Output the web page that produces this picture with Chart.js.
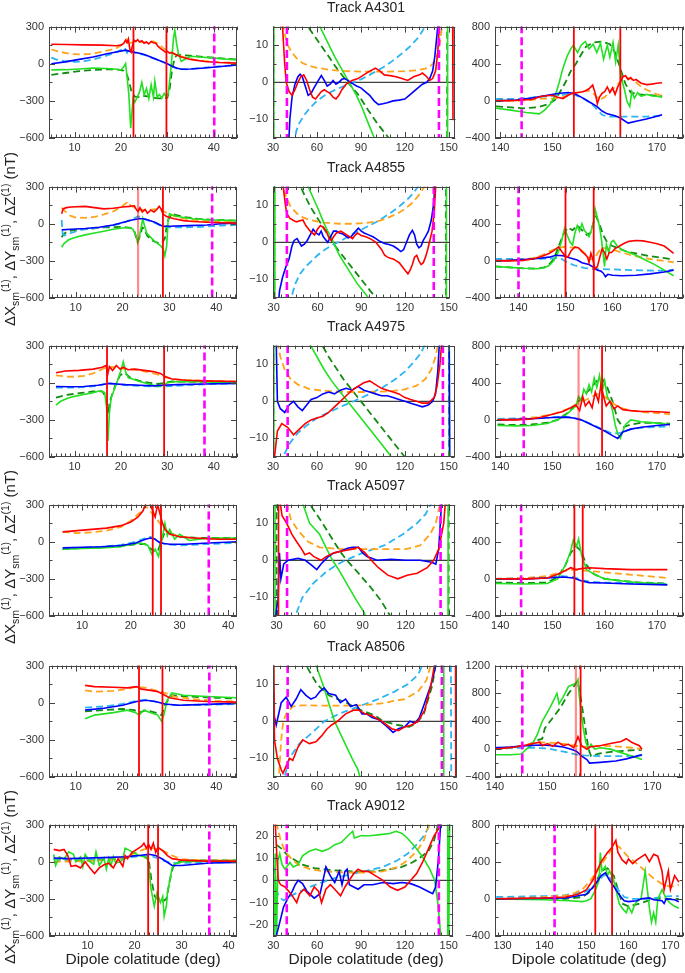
<!DOCTYPE html>
<html>
<head>
<meta charset="utf-8">
<script src="https://cdn.jsdelivr.net/npm/chart.js@4.4.1/dist/chart.umd.min.js"></script>
<style>
  body { margin: 0; background: #fff; width: 685px; height: 973px; position: relative; overflow: hidden;
         font-family: "Liberation Sans", Arial, sans-serif; color: #222; }
  canvas { position: absolute; }
  .title { position: absolute; width: 220px; text-align: center; font-size: 14px; line-height: 16px; }
  .xlab { position: absolute; width: 230px; text-align: center; font-size: 15.5px; line-height: 18px; }
  .ylab { position: absolute; width: 300px; height: 18px; line-height: 18px; text-align: center; font-size: 15px;
          white-space: nowrap; transform: rotate(-90deg); }
  .ylab .sb { font-size: 10.5px; position: relative; top: 4px; line-height: 0; }
  .ylab .sp { font-size: 10.5px; position: relative; top: -6px; line-height: 0; }
</style>
</head>
<body>
<script>
// ---------- tracks & axis ranges ----------
const tracks = ['A4301', 'A4855', 'A4975', 'A5097', 'A8506', 'A9012'];

const xRangeN = [[4.5, 45], [4.3, 44.4], [4.5, 45], [3.2, 41.8], [4.3, 44.4], [1.8, 41.8]];
const xRangeM = [[30, 154.5], [29.5, 150.5], [30, 154], [27.5, 154.5], [30, 155.5], [29.8, 153]];
const xRangeS = [[139, 175], [135, 175], [139, 175], [139, 175], [140, 175.8], [128.2, 173]];

const yRangeN = [-600, 300];
const yRangeM = [-15, 15];
const yRangeM_A9012 = [-25, 25];
const yRangeS = [-400, 800];
const yRangeS_A8506 = [-400, 1200];

// ---------- A4301 ----------
const A4301n_red = [5,157, 8,155, 12,152, 16,150, 19,145, 20,150, 20.6,165, 21,190, 21.3,170, 21.6,200, 21.9,120, 22.2,95, 22.5,150, 22.8,190, 23.2,180, 23.6,195, 24,175, 24.5,185, 25,165, 25.5,175, 26,160, 26.5,180, 27,170, 27.5,165, 28,140, 28.5,125, 29,110, 29.5,95, 30,100, 30.5,85, 31,90, 32,70, 33,55, 35,35, 38,18, 41,10, 45,5];
const A4301n_orange = [5,115, 7,95, 9,80, 11,75, 13,78, 15,90, 17,105, 19,125, 20.5,160, 21.2,195, 21.6,150, 22.2,170, 23,185, 24,175, 25,172, 26,175, 27,180, 28,160, 29,130, 30,105, 31,85, 32,70, 34,50, 36,30, 40,15, 45,5];
const A4301n_blue = [5,0, 8,15, 11,35, 14,55, 17,80, 19,95, 21,110, 22,100, 23,92, 24,85, 25,75, 26,60, 27,45, 28,30, 29,15, 30,0, 31,-20, 32,-35, 33,-45, 35,-42, 38,-35, 41,-25, 45,-10];
const A4301n_lblue = [5,50, 6,35, 8,20, 10,15, 12,20, 14,35, 16,55, 18,80, 20,110, 20.8,130, 21.3,90, 21.6,120, 22,100, 23,90, 25,72, 27,45, 29,15, 31,-20, 32,-40, 34,-45, 38,-32, 42,-18, 45,-10];
const A4301n_green = [5,-50, 8,-48, 11,-42, 14,-35, 17,-38, 19,-45, 20,-50, 20.5,-30, 21,0, 21.3,-100, 21.7,-250, 22.1,-520, 22.4,-380, 22.6,-280, 23,-310, 23.5,-270, 24,-230, 24.5,-150, 25,-250, 25.5,-200, 26,-280, 26.5,-170, 27,-270, 27.3,-140, 27.8,-270, 28.3,-250, 28.8,-280, 29.3,-240, 29.8,-270, 30.2,-240, 30.6,-100, 31,60, 31.3,200, 31.6,270, 32,160, 32.4,80, 33,20, 34,40, 35,60, 37,55, 40,45, 45,30];
const A4301n_dgreen = [5,-90, 8,-75, 11,-60, 14,-50, 17,-45, 19,-45, 20.5,-55, 21.3,-90, 21.8,-150, 22.3,-230, 23,-265, 24,-270, 25,-260, 26,-265, 27,-275, 28,-280, 29,-280, 30,-275, 30.5,-200, 31,-50, 31.6,50, 32.2,75, 33,70, 35,65, 38,55, 41,45, 45,35];
const A4301n_vred = [22.7, 29.8];
const A4301n_vpale = [];
const A4301n_vmag = [40.1];

const A4301m_red = [35.5,40, 36.5,15, 38,5, 39,0, 41,-2.5, 43,-3.5, 45,-2, 47,0, 49,1.5, 51,2, 53,0.5, 55,-2, 57,-4, 59,-4.5, 61,-3.5, 63,-2.5, 65,-2, 67,-2.5, 69,-3, 71,-4, 73,-4.5, 75,-3.5, 77,-2, 80,-0.5, 84,0.5, 88,1, 92,2, 96,3, 100,3.8, 103,3, 106,2, 110,1.8, 114,1.5, 118,1, 122,0.5, 126,1.5, 130,2, 132,2.5, 135,1.5, 137,0.5, 139,1, 141,3, 142.5,8, 143.5,15, 145,40, 152.5,40, 152.9,-10, 153.2,-10];
const A4301m_orange = [36.5,16, 38,13, 40,10, 43,8, 46,6.5, 50,5.2, 55,4.4, 60,3.9, 70,3.3, 80,3, 90,2.9, 100,2.9, 110,2.9, 120,3, 128,3.2, 134,3.7, 138,4.5, 141,6, 143,8.5, 144.5,12, 145.5,16];
const A4301m_blue = [40.3,-20, 41.5,-10, 43,-4, 45,-0.5, 47,1.5, 48.5,2.2, 50,1.5, 52,-1, 54,-3.5, 56,-3, 58,-1.5, 61,0.5, 63,1.8, 65,0.5, 67,-1, 69,-0.5, 71,0.5, 73,-0.5, 75,0, 77,0.8, 79,1, 81,0.5, 83,0, 85,-0.5, 87,-1, 90,-1.5, 93,-2.5, 96,-3.5, 99,-5, 102,-6, 105,-5.8, 108,-5.5, 112,-5, 116,-4.8, 120,-4.5, 123,-3.5, 126,-2.5, 129,-1.5, 132,-0.5, 135,0, 137,1, 139,3, 140.5,7, 141.5,11, 142.5,15, 143.5,30];
const A4301m_lblue = [44,-17, 46,-13, 48,-11, 51,-9, 55,-7, 60,-5, 65,-3.6, 70,-2.5, 75,-1.6, 80,-0.8, 85,0, 90,0.8, 95,1.8, 100,2.9, 105,4, 110,5.3, 115,6.8, 120,8.4, 125,10.2, 129,12, 132,13.8, 134.5,15.5];
const A4301m_green = [30.3,-300, 30.8,300, 60,20, 62,15, 67,11, 72,7, 77,3.5, 82,0, 87,-3.5, 91,-7, 95,-11, 99.7,-15.5, 148.8,-300, 149.6,300];
const A4301m_dgreen = [30.1,-300, 30.5,300, 51,20, 53,15.5, 60,11.5, 67,7.5, 74,3.5, 81,0, 88,-3.2, 95,-7.5, 102,-11.5, 110,-15.5, 148.6,-300, 149.3,300];
const A4301m_vmag = [39.5, 143.3];

const A4301s_red = [139.2,0, 143,5, 146,15, 148,50, 150,60, 151,40, 152,25, 153,60, 154,85, 155,90, 156,100, 157,130, 157.7,170, 158.2,80, 158.6,-30, 159,40, 159.5,80, 160,100, 160.5,150, 161,90, 161.5,140, 162,70, 162.5,150, 163,200, 163.5,260, 164,270, 164.5,230, 165,250, 165.5,220, 166,230, 167,190, 168,175, 169,180, 170,190, 171,195];
const A4301s_orange = [139.2,0, 143,0, 146,10, 148,25, 150,25, 152,40, 154,80, 155.5,100, 157,110, 158,70, 159,10, 160,40, 161,100, 162,150, 163,210, 164,250, 165,240, 166,200, 167,150, 168,120, 169,95, 170,70, 171,55];
const A4301s_green = [139.2,-80, 142,-100, 145,-125, 147.5,-140, 148.5,-100, 149.5,-40, 150.5,50, 151.3,200, 152,350, 152.8,480, 153.5,560, 154,600, 154.8,520, 155.5,600, 156.3,640, 157,560, 157.8,610, 158.5,520, 159.2,620, 159.8,450, 160.5,600, 161,470, 161.6,630, 162.1,420, 162.6,600, 163,320, 163.4,200, 163.8,120, 164.3,-10, 164.8,-60, 165.2,100, 165.7,30, 166.3,90, 167,50, 168,70, 169,55, 170,50, 171,40];
const A4301s_dgreen = [139.2,-60, 142,-70, 144.5,-80, 147,-70, 149,-40, 150.5,10, 151.5,100, 152.5,200, 153.5,320, 154.5,400, 155.5,500, 156.5,590, 158,630, 159.5,640, 161,610, 162,520, 163,350, 164,180, 165,90, 166.5,70, 168,65, 170,55, 171,50];
const A4301s_blue = [139.2,0, 143,10, 146,30, 148.5,55, 151,80, 153,90, 154.2,80, 155.5,40, 157,-10, 158.5,-60, 159.5,-110, 160.5,-140, 162,-160, 163,-185, 164.5,-240, 166,-220, 168,-195, 170,-165, 171,-150];
const A4301s_lblue = [139.2,20, 143,20, 146,35, 149,50, 151.5,60, 153,75, 154.5,60, 156,25, 157.5,-30, 158.5,-90, 159.5,-150, 160.5,-170, 163,-170, 166,-170, 168,-170, 171,-160];
const A4301s_vred = [154.1, 163.0];
const A4301s_vpale = [];
const A4301s_vmag = [144.1];

// ---------- A4855 ----------
const A4855n_red = [7,80, 7.3,120, 8,130, 9,135, 12,140, 14,130, 16,120, 18,125, 20,135, 21.5,140, 22.5,145, 23,110, 23.3,100, 23.7,130, 24.2,95, 24.8,115, 25.3,85, 26,110, 26.7,95, 27.3,115, 27.8,140, 28.2,120, 28.6,80, 29.3,60, 30,50, 31,40, 33,25, 35,18, 38,12, 41,8, 44.4,5];
const A4855n_orange = [7,130, 7.5,110, 8.5,70, 10,50, 12,48, 14,55, 16,75, 18,100, 19.5,130, 20.5,160, 21.2,180, 21.6,150, 22.5,130, 23.5,115, 25,110, 26.5,115, 28,120, 29,95, 30,75, 32,50, 35,30, 38,20, 44.4,15];
const A4855n_green = [7,-190, 7.5,-160, 8.5,-130, 10,-110, 12,-90, 14,-75, 16,-60, 18,-45, 20,-35, 21.5,-30, 22.2,-45, 22.8,-90, 23.2,-150, 23.6,-100, 24,-20, 24.3,40, 24.7,-20, 25.2,-80, 26,-110, 26.8,-140, 27.5,-160, 28.2,-180, 28.7,-210, 29,-260, 29.4,-180, 29.7,20, 30,80, 30.5,70, 31.5,60, 33,50, 35,40, 38,32, 44.4,25];
const A4855n_dgreen = [7,-110, 7.5,-80, 8.5,-60, 10,-50, 13,-40, 16,-30, 20,-25, 21.8,-35, 22.5,-60, 23.2,-150, 23.7,-100, 24.2,-30, 24.6,-40, 25.3,-100, 26.5,-140, 27.5,-155, 28.3,-160, 29,-120, 29.4,-20, 29.8,40, 30.5,80, 31.5,70, 33,55, 36,40, 40,30, 44.4,25];
const A4855n_blue = [7,-50, 9,-45, 12,-38, 15,-28, 18,-10, 20,10, 22,30, 23.5,40, 24.5,40, 25.5,30, 27,10, 28,-10, 28.6,-20, 30,-20, 34,-15, 38,-10, 41,0, 44.4,5];
const A4855n_lblue = [7,30, 7.2,-80, 7.6,-95, 9,-75, 11,-50, 14,-35, 17,-20, 20,5, 22,35, 23.3,60, 24,45, 25.5,25, 27,5, 28.5,-20, 30,-30, 33,-30, 37,-25, 41,-15, 44.4,-10];
const A4855n_vred = [28.6];
const A4855n_vpale = [23.3];
const A4855n_vmag = [39.1];

const A4855m_red = [35,40, 36.5,15, 38,10, 39,7.7, 41,6.5, 43,6, 45.5,5.5, 48,5.8, 50,6, 52,4.5, 55,3, 58,2, 60,3.5, 62,4.5, 64,4, 66,3, 68,1, 69.5,0.5, 71,1.5, 73,2.5, 76,3, 78,2.5, 80,2, 82,1.5, 84,1, 86,2, 87.5,2.5, 90,1.8, 93,1.5, 96,1, 98,0.5, 100,0, 102,-1, 104,-2, 106,-3.5, 108,-4, 110,-4.3, 112,-4.5, 114,-5, 116,-5.5, 118,-6.5, 120,-7.5, 122,-8.5, 123.5,-7.5, 125,-6, 126.5,-4, 128,-3.5, 129.5,-5, 131,-6, 132.5,-5.5, 134,-4, 135.5,-2, 137,0.5, 138.5,3, 140,8, 141,15, 142,40];
const A4855m_orange = [35.5,17, 37,14, 39,12, 41,10, 43,9, 46,7.7, 50,6.7, 55,6, 60,5.6, 65,5.3, 75,5, 85,5, 95,5.3, 100,5.6, 105,6.1, 110,6.9, 115,7.8, 120,9, 124,10.3, 128,12, 131,13.5, 134,15.5];
const A4855m_blue = [32.5,-20, 34,-13, 36,-9.5, 38,-7, 40.5,-4.5, 42.5,-1, 44,0.5, 46,1, 47.5,0, 49,-1, 51,-0.5, 53,0.5, 55,2, 57,3.5, 59,2.5, 61,2, 62.5,3, 64,1.5, 66,0.5, 67,0, 69,1.5, 71,3, 73,3, 75,2.5, 77,2.3, 79,1.8, 81,1.2, 83,1.5, 85,2.5, 88,3.8, 90,3, 92,2.5, 95,2, 98,1.5, 100,1, 103,0.2, 106,-0.3, 109,-0.6, 112,-1, 115,-1.8, 117,-2.5, 119,-2, 121,0, 123,2, 125,3.2, 126.5,2, 128,-0.5, 129.5,-1.5, 131,-1, 132.5,0.5, 134,1.5, 136,3, 138,6, 139.5,10, 140.5,15, 141.5,40];
const A4855m_lblue = [41.5,-17, 43,-13.5, 45,-11, 48,-8.5, 52,-6.5, 56,-5, 60,-3.5, 65,-2, 70,-0.8, 75,0.2, 80,1.3, 85,2.4, 90,3.4, 95,4.4, 100,5.4, 105,6.6, 110,7.9, 115,9.3, 120,11, 124,12.5, 128,14.5, 130,16];
const A4855m_green = [30.5,-300, 31,300, 51,20, 53,15.5, 57,12, 61,8.5, 64,5.5, 67,3, 70,0.8, 72,-1, 75,-3.5, 79,-6, 83,-8.5, 87,-11, 91,-13, 95,-15, 97,-16, 148,-300, 148.7,300];
const A4855m_dgreen = [30.2,-300, 30.6,300, 46,20, 47.7,15.5, 52,12, 56,9, 60,6.5, 64,4, 67,2, 70,0.3, 73,-1.5, 77,-3.5, 81,-5.5, 85,-7.5, 89,-9.5, 93,-11.5, 97,-13.5, 101,-15.5, 147.8,-300, 148.3,300];
const A4855m_vmag = [39, 139.7];

const A4855s_red = [135,0, 138,0, 141,5, 143,20, 145,50, 146.5,80, 147.5,110, 148.5,150, 149.2,100, 149.8,60, 150.5,40, 151.2,110, 152,150, 152.8,140, 153.5,100, 154.2,70, 154.7,40, 155,-20, 155.4,80, 155.8,20, 156.3,-90, 156.8,-60, 157.3,40, 157.8,130, 158.3,90, 158.8,20, 159.3,90, 159.8,90, 160.5,130, 161.5,160, 162.5,190, 163.5,210, 165,220, 166.5,215, 168,200, 169.5,185, 171,160, 172,120, 173,80];
const A4855s_orange = [135,0, 138,5, 141,15, 143,30, 145,60, 146.5,100, 148,130, 149.5,150, 151,145, 152.5,140, 153.5,110, 154.5,60, 155.3,20, 156,10, 156.8,80, 157.5,130, 158.5,140, 160,120, 162,90, 164,60, 166,40, 168,20, 170,5, 173,-15];
const A4855s_green = [135,-60, 138,-70, 141,-80, 144,-85, 145.5,-75, 146.5,-50, 147.5,0, 148.5,100, 149.2,220, 149.8,350, 150.4,270, 151,200, 151.5,170, 152,300, 152.5,380, 153,320, 153.5,400, 154,330, 154.5,300, 155,260, 155.5,330, 156,420, 156.3,560, 156.7,480, 157.2,380, 157.6,250, 158,80, 158.3,-60, 158.7,180, 159.2,90, 159.7,200, 160.2,220, 161,160, 162,120, 163.5,90, 165,60, 167,10, 169,-40, 171,-100, 173,-160];
const A4855s_dgreen = [135,-60, 138,-70, 141,-80, 144,-85, 145.5,-70, 146.5,-40, 147.5,20, 148.5,150, 149.5,280, 150.5,360, 151.5,330, 152.5,380, 153.5,330, 154.5,280, 155.3,300, 156,420, 156.5,480, 157.2,400, 158,280, 159,190, 160,160, 161.5,130, 163,100, 165,80, 168,50, 171,30, 173,15];
const A4855s_blue = [135,0, 138,5, 141,15, 144,25, 146.5,40, 148,60, 149.5,55, 151,30, 152.5,10, 153.5,-20, 155,-40, 156,-70, 156.8,-100, 157.5,-110, 158,-130, 158.5,-170, 159,-145, 160,-155, 162,-160, 165,-155, 168,-140, 171,-120, 173,-100];
const A4855s_lblue = [135,20, 138,20, 141,20, 144,20, 146.5,25, 148,30, 149.2,20, 150.5,-20, 152,-50, 154,-75, 156,-90, 158,-90, 160,-92, 163,-98, 166,-102, 169,-106, 171,-105, 173,-95];
const A4855s_vred = [150.0, 156.0];
const A4855s_vpale = [];
const A4855s_vmag = [140];

// ---------- A4975 ----------
const A4975n_red = [6,80, 8,95, 11,100, 14,110, 16,125, 16.8,140, 17.1,60, 17.5,130, 18.2,100, 19,140, 19.8,110, 20.5,125, 21.5,105, 23,110, 25,100, 27,90, 28.5,75, 29.5,50, 31,30, 34,20, 38,15, 45,10];
const A4975n_orange = [6,60, 8,50, 10,48, 12,55, 14,75, 16,110, 17,130, 18.5,125, 20,115, 22,110, 24,100, 26,85, 28,65, 29.5,45, 31,30, 34,22, 38,15, 45,10];
const A4975n_green = [6,-180, 7,-150, 8.5,-125, 10,-110, 12,-95, 14,-80, 15.5,-65, 16.5,-80, 16.9,-200, 17.2,-470, 17.5,-250, 17.9,-120, 18.5,-60, 19.3,20, 20,100, 20.5,170, 21,90, 21.6,40, 22.5,30, 24,10, 26,-10, 28,-30, 29,-20, 30,0, 32,10, 36,8, 40,5, 45,5];
const A4975n_dgreen = [6,-120, 8,-100, 10,-90, 12,-80, 14,-70, 16,-70, 16.8,-120, 17.3,-220, 17.8,-130, 18.8,-20, 19.8,60, 20.8,80, 22,40, 24,15, 26,0, 28,-10, 29.5,0, 31,10, 36,8, 45,5];
const A4975n_blue = [6,-30, 9,-32, 12,-30, 15,-20, 16.8,-10, 17.5,-5, 19,-10, 21,-15, 24,-20, 27,-25, 29,-20, 32,-15, 38,-10, 45,-5];
const A4975n_lblue = [6,-40, 9,-40, 12,-35, 15,-25, 17,-5, 18.5,-10, 21,-20, 24,-25, 27,-30, 29.5,-30, 34,-20, 40,-10, 45,-5];
const A4975n_vred = [17.0, 29.3];
const A4975n_vpale = [];
const A4975n_vmag = [38];

const A4975m_red = [30,-60, 31,-15, 33,-8, 36,-6, 40,-7, 44,-9, 48,-7.5, 52,-6, 56,-5, 60,-4.5, 64,-4, 68,-3, 72,-1.5, 76,0, 80,1.5, 84,3, 88,4, 92,5, 96,5.5, 100,4.5, 104,3.5, 108,3, 112,2.5, 116,2, 120,1, 124,0.5, 128,0, 132,-0.5, 136,-0.5, 140,1, 142,4, 144,10, 145,15, 146,40];
const A4975m_orange = [33,16, 35,12, 38,8.5, 42,6, 47,4.5, 55,3.3, 65,2.8, 80,2.5, 95,2.5, 110,2.7, 120,3.2, 128,4.2, 134,6, 138,8.5, 141,12, 143,16];
const A4975m_blue = [32,20, 33,0, 35,-2, 38,-3, 41,-1, 44,0, 47,-1.5, 50,-2.5, 53,-1, 56,0.5, 60,1, 64,2, 68,2.5, 72,2, 76,3, 80,3.5, 84,3, 88,4, 92,3, 96,2.5, 100,2, 104,1.5, 108,1.5, 112,1, 116,0.5, 120,0, 124,-0.5, 128,-1, 132,-1.5, 136,-1, 139,0, 141,2, 142.5,8, 143.5,15, 150,40, 151,-40];
const A4975m_lblue = [35,-17, 38,-14, 42,-11, 47,-8.5, 53,-6.5, 60,-4.5, 68,-3, 76,-1.5, 85,0, 95,1.8, 105,3.8, 113,5.8, 120,8, 126,10.5, 131,13, 134,15.5];
const A4975m_green = [30.3,-300, 30.8,300, 52,20, 55,15.5, 60,12, 65,8.5, 70,5.5, 75,3, 80,0.5, 85,-2, 90,-4.5, 95,-7, 100,-9.5, 105,-12, 110,-14.5, 112,-16, 150,-300, 150.7,300];
const A4975m_dgreen = [30.1,-300, 30.5,300, 60,20, 63,15.5, 68,12, 73,9, 78,6, 83,3.5, 88,1, 93,-1.5, 98,-4, 103,-6.5, 108,-9, 113,-11.5, 118,-14, 121,-15.5, 149.8,-300, 150.4,300];
const A4975m_vmag = [40, 146];

const A4975s_red = [139.5,0, 143,0, 146,10, 148,30, 150,60, 152,90, 153.5,130, 154.5,160, 155.2,100, 155.8,250, 156.3,150, 157,200, 157.6,130, 158.2,300, 158.8,200, 159.3,380, 159.8,250, 160.3,150, 161,200, 161.8,120, 162.5,150, 163.5,110, 165,100, 167,90, 169,90, 171,85, 172.5,80];
const A4975s_orange = [139.5,0, 143,10, 147,30, 150,60, 153,120, 155,180, 157,230, 158.5,280, 160,250, 161.5,180, 163,130, 165,100, 168,80, 171,70, 172.5,60];
const A4975s_green = [139.5,-60, 143,-65, 146,-60, 149,-40, 151,0, 152.5,50, 153.5,100, 154.5,150, 155,250, 155.5,200, 156,330, 156.5,280, 157,380, 157.5,300, 158,450, 158.5,350, 159,480, 159.5,300, 160,420, 160.5,250, 161,200, 161.5,100, 162,-50, 162.5,-150, 163,-200, 163.5,-120, 164,-50, 165,0, 167,-20, 169,-30, 171,-40, 172.5,-50];
const A4975s_dgreen = [139.5,-50, 143,-55, 146,-50, 149,-30, 151,0, 153,80, 155,200, 157,320, 158.5,420, 159.5,450, 160.5,350, 161.5,200, 162.5,0, 163.5,-80, 165,-50, 167,-30, 170,-35, 172.5,-40];
const A4975s_blue = [139.5,0, 143,5, 147,15, 150,25, 152.5,30, 154,20, 155.5,0, 157,-40, 158.5,-80, 160,-120, 161.5,-170, 162.5,-200, 163.5,-130, 165,-100, 167,-80, 170,-60, 172.5,-50];
const A4975s_lblue = [139.5,10, 143,15, 147,20, 150,30, 152.5,35, 154,25, 156,-10, 158,-60, 160,-110, 161.5,-150, 163,-140, 165,-100, 168,-80, 172.5,-70];
const A4975s_vred = [159.5];
const A4975s_vpale = [155];
const A4975s_vmag = [144.5];

// ---------- A5097 ----------
const A5097n_red = [6,80, 9,90, 12,100, 15,110, 18,130, 20,160, 21.5,200, 22.5,250, 23,300, 23.5,350, 24.5,250, 25,200, 25.5,300, 26.5,150, 27,100, 28,60, 30,40, 33,30, 38,20, 41.8,20];
const A5097n_orange = [6,80, 9,70, 12,75, 15,90, 18,120, 20,170, 22,240, 23,290, 25,200, 26.5,120, 28,70, 30,40, 34,25, 41.8,20];
const A5097n_green = [6,-60, 10,-55, 14,-50, 18,-40, 20,-20, 22,-10, 23.5,-30, 24.3,-100, 25,-60, 25.7,-120, 26.3,0, 27,150, 27.5,50, 28,100, 29,20, 30,60, 32,10, 34,20, 36,30, 41.8,30];
const A5097n_dgreen = [6,-60, 10,-50, 14,-45, 18,-35, 21,-20, 23,-20, 24.5,-70, 25.5,-80, 26.8,60, 28,70, 30,40, 34,30, 41.8,30];
const A5097n_blue = [6,-50, 10,-45, 14,-40, 18,-30, 21,-10, 23,20, 24,30, 25,20, 26,-10, 28,-20, 31,-20, 36,-10, 41.8,0];
const A5097n_lblue = [6,-60, 10,-50, 14,-40, 18,-25, 21,0, 23,30, 24,40, 25.5,10, 27,-20, 30,-30, 35,-20, 41.8,-10];
const A5097n_vred = [24.5, 26.2];
const A5097n_vpale = [];
const A5097n_vmag = [36];

const A5097m_red = [31,-300, 31.7,300, 32.7,15, 33.8,12, 37,10, 40.7,7, 44,5, 47.5,3, 49.7,1.5, 53,2, 56,1, 61,0, 64.5,1, 70,2, 76,2.5, 82.6,3, 87,3.5, 91.7,2, 96,0, 101,-2, 107.5,-4, 114.5,-5, 121,-4, 128,-3.5, 135,-2, 139.5,0, 143,3, 146.5,10, 147.5,15, 148,40];
const A5097m_orange = [37,15.5, 40,11, 45,8, 52,5, 60,3.5, 75,3, 100,3, 120,3, 130,4, 137,7, 141,10, 144,15.5];
const A5097m_blue = [28,-20, 30,-13, 31,-11, 32,2, 33,-5, 35,-1, 38,0, 45,0.5, 50,0, 55,-1.5, 58,-2.5, 61,-1, 66,1, 70,2, 75,2.5, 80,3.3, 83,3.5, 87,3.5, 90,2, 93,1, 100,0, 110,0.3, 120,0, 130,0, 138,-0.5, 141,-1, 143,3, 145,15.5, 146,40];
const A5097m_lblue = [42,-17, 43,-15, 48,-10, 56,-6, 65,-3, 72,-1.2, 78,0, 90,2, 105,4, 118,7, 128,10, 134,12.5, 138,15.5];
const A5097m_green = [28.7,-300, 29.1,300, 46,20, 48,15.5, 53,10, 60,7, 65,3, 69,0, 74,-3, 80,-7, 86,-11, 91,-14, 93,-16, 149.3,-300, 149.8,300];
const A5097m_dgreen = [29.8,-300, 30.2,300, 50,20, 52.5,15.5, 62,10, 70,5, 75,2, 79,0, 86,-3, 95,-7, 103,-11, 110,-15.5, 149.7,-300, 150.2,300];
const A5097m_vmag = [37.3, 144.3];

const A5097s_red = [139,0, 145,0, 149,10, 151,50, 152.5,90, 153.5,120, 154.5,100, 155.5,110, 157,120, 160,110, 165,100, 172,100];
const A5097s_orange = [139,0, 145,10, 149,30, 152,80, 154,100, 156,90, 158,80, 162,60, 166,40, 170,20, 172,10];
const A5097s_green = [139,-50, 145,-55, 149,-50, 151,0, 152.5,150, 153.5,300, 154,420, 154.6,350, 155,430, 155.6,250, 156.5,100, 158,50, 160,0, 163,-20, 166,-40, 170,-50, 172,-60];
const A5097s_dgreen = [139,-40, 145,-45, 149,-40, 151,20, 152.5,150, 153.5,280, 154.5,350, 155.5,300, 156.5,150, 158,50, 160,0, 163,-20, 167,-40, 172,-50];
const A5097s_blue = [139,0, 145,0, 149,10, 152,20, 154,10, 155.5,-20, 157,-40, 160,-45, 165,-55, 172,-65];
const A5097s_lblue = [139,0, 145,10, 149,20, 152,30, 154,20, 155.5,-10, 157,-30, 160,-40, 165,-45, 172,-55];
const A5097s_vred = [154.2, 155.8];
const A5097s_vpale = [];
const A5097s_vmag = [144];

// ---------- A8506 ----------
const A8506n_red = [12,140, 14,130, 18,125, 21,120, 23,130, 24,110, 26,100, 27.5,90, 28.5,70, 30,40, 33,20, 38,10, 44.4,5];
const A8506n_orange = [12,100, 14,90, 18,95, 21,110, 23,130, 25,120, 27,100, 29,80, 31,50, 35,30, 40,15, 44.4,10];
const A8506n_green = [12,-130, 14,-100, 18,-80, 21,-60, 22.8,-80, 23.5,-100, 24.5,-60, 26,-80, 27.5,-100, 28.3,-150, 28.8,-100, 29.5,20, 30.5,80, 33,60, 38,50, 44.4,40];
const A8506n_dgreen = [12,-70, 16,-60, 20,-50, 22.5,-60, 23.5,-80, 25,-60, 27,-80, 28.3,-100, 29.3,0, 30.5,60, 34,50, 40,40, 44.4,35];
const A8506n_blue = [12,-60, 16,-45, 20,-20, 23,10, 25,20, 27,10, 29,-10, 32,-20, 36,-15, 44.4,-5];
const A8506n_lblue = [12,-40, 16,-30, 20,-10, 23,15, 25,25, 28,0, 30,-20, 35,-20, 44.4,-10];
const A8506n_vred = [23.5, 28.5];
const A8506n_vpale = [];
const A8506n_vmag = [38.5];

const A8506m_red = [30,40, 31,-5, 33,-10, 35.6,-13, 36.8,-14, 39,-12, 41.3,-10, 43.5,-10.5, 47,-7, 50.3,-5, 54.8,-6, 59.3,-5.5, 63,-4, 67,-2, 70,-1, 74,0, 79.6,2, 85,3, 88.5,3, 93,2, 97.5,1.5, 104.4,0, 111,-2, 115.6,-2.5, 120,-1.5, 124.6,-1, 129,0, 133.6,3, 138,10, 140.4,15.5, 141,40, 154.5,40, 155,-40];
const A8506m_orange = [33.5,-17, 34,-15, 35.6,-5, 37,0, 39,2, 43.5,4, 50,4.3, 65,4.2, 80,4.2, 90,4.3, 104,4.8, 113,5.5, 120,6, 129,8, 134.7,11, 138,15.5];
const A8506m_blue = [30,8, 30.5,2, 32.2,-1, 35.6,5, 39,6.5, 42.4,4, 45.8,6, 49,8.5, 52.5,7, 55.9,6, 59,6.5, 62,8, 64.9,9, 68,7.5, 72.8,7, 76,5, 79.6,6, 83,4, 87,4.5, 90.8,2, 94,2, 97.6,1, 102,0.5, 106.6,-1, 112,-3, 115.6,-2, 120,-1.5, 123.5,0, 127,-0.5, 130,1, 133.6,5, 138,10, 141.5,15.5, 142,40, 154.8,40, 155.2,-40];
const A8506m_lblue = [34,-17, 37.9,-15, 41,-10, 48,-6, 57,-3, 65,0, 75,2, 88.6,4, 102,6, 113,8, 122,10, 129,12.5, 132.5,15.5, 151.3,40, 151.9,-40];
const A8506m_green = [30,-300, 30.4,300, 57,20, 59,15.5, 64,10, 68,5, 72,0, 78,-5, 84,-10, 88,-13, 90,-16, 146.3,-300, 146.9,300];
const A8506m_dgreen = [29.8,-300, 30.2,300, 50,20, 52,15.5, 60,10, 68,7, 80,5, 90,3, 100,1.5, 105,0, 115,-1, 123,-1.5, 128,-0.5, 133,2, 139,10, 141,15.5];
const A8506m_vmag = [40, 145.3];

const A8506s_red = [140,0, 144,30, 146,60, 148.5,100, 149,50, 150,80, 151,40, 152,100, 153,50, 154,70, 155,20, 155.8,180, 156.5,50, 157.5,0, 158,30, 160,50, 162,80, 164,110, 165,150, 166,100, 167.5,50, 168,0];
const A8506s_orange = [140,0, 145,50, 148,100, 151,90, 154,70, 156,40, 158,30, 160,50, 163,40, 166,20, 168,0];
const A8506s_green = [140,-80, 143,-80, 145,-70, 146,0, 147,60, 148,200, 149,400, 150.5,600, 151.8,800, 152.2,650, 153,750, 154,900, 155.5,950, 155.8,1000, 156,800, 156.3,600, 156.8,300, 157.3,100, 157.8,0, 158.3,70, 159,0, 160,20, 162,0, 164,-50, 166,-100, 168,-150];
const A8506s_dgreen = [140,0, 145,30, 147.5,100, 148.2,130, 149,150, 149.5,300, 150.5,400, 152.5,600, 154,800, 155,900, 155.7,980, 156.2,800, 156.8,500, 157.3,250, 157.8,0, 158.3,-100, 160,-60, 162,-40, 165,-20, 168,-10];
const A8506s_blue = [140,20, 143,30, 146,50, 149,60, 151,50, 153,30, 154.5,0, 155.5,-30, 156.5,-100, 157.5,-150, 158,-200, 160,-190, 163,-170, 165,-140, 167,-100, 168,-80];
const A8506s_lblue = [140,20, 144,20, 147,20, 150,10, 152,-20, 154,-50, 155.5,-80, 157,-90, 160,-100, 165,-100, 168,-90];
const A8506s_vred = [156.3];
const A8506s_vpale = [155.4];
const A8506s_vmag = [145.2];

// ---------- A9012 ----------
const A9012n_red = [2.8,100, 4,90, 5,100, 5.8,50, 6.5,-38, 7.5,-30, 8.5,-50, 9.5,0, 10.5,-50, 11.5,-96, 12.5,-50, 13.5,-25, 14.5,-12, 15.5,-50, 16.5,25, 17.5,-38, 18,50, 18.5,25, 19.5,75, 20.5,100, 21.5,125, 22,150, 22.5,110, 23,140, 23.5,100, 24,150, 24.5,75, 25,115, 26,90, 27,50, 28,25, 30,13, 35,5, 41.8,5];
const A9012n_orange = [2.8,0, 6,2, 10,5, 15,15, 18,40, 20,70, 22,100, 24,110, 26,90, 28,50, 30,20, 35,10, 41.8,10];
const A9012n_green = [2.8,60, 3.2,-30, 4,40, 5,20, 6,80, 7,60, 7.5,0, 8.5,40, 9,-40, 9.5,60, 10.5,0, 11.3,-20, 11.8,80, 12.5,-30, 13.5,30, 14,-60, 14.5,30, 15,-30, 15.5,40, 16,-10, 17,0, 17.5,20, 18,110, 19,90, 20,70, 21,50, 22,40, 22.8,20, 23.2,-100, 23.5,-220, 24.2,-360, 24.8,-250, 25.5,-330, 26,-280, 26.3,-440, 26.8,-350, 27,-250, 27.5,-150, 28,-50, 28.5,-20, 30,0, 35,5, 41.8,10];
const A9012n_dgreen = [2.8,20, 6,15, 10,15, 15,20, 18,30, 20,50, 22,45, 23,20, 23.6,-150, 24.3,-280, 25,-300, 26,-320, 26.8,-300, 27.5,-150, 28.2,-40, 29.5,0, 32,10, 41.8,10];
const A9012n_blue = [2.8,30, 6,25, 10,30, 15,35, 18,40, 21,50, 23,60, 24.5,50, 26,20, 28,-30, 30,-30, 33,-20, 36,-10, 41.8,-5];
const A9012n_lblue = [2.8,20, 10,20, 15,30, 20,40, 22.5,50, 24,40, 26,10, 28,-10, 31,-10, 36,-10, 41.8,0];
const A9012n_vred = [22.9, 25.0];
const A9012n_vpale = [];
const A9012n_vmag = [35.9];

const A9012m_red = [31,30, 32.5,10, 33.4,0, 35,-2, 38,-3, 42,-6, 46,-10, 48,-6, 51,-4, 55,-7, 58,-3, 61,-5, 63,-10, 66,-4, 69,-2, 72,-4, 76,-7, 79,-3, 82,0, 85,3, 88,5, 91,4, 95,4, 100,2, 105,0, 110,-3, 115,-4.5, 120,-3, 124,0, 128,3, 132,8, 136,14, 140,20, 143,23, 144,26];
const A9012m_orange = [32,26, 35,18, 38,13, 42,10, 47,7, 55,5, 65,4, 80,3.5, 95,3.5, 105,4, 115,6, 122,9, 128,13, 133,18, 137,26];
const A9012m_blue = [31,-40, 32,-25, 34,-20, 37,-12, 40,-8, 43,-5, 45,-2, 47,0, 50,-1.5, 53,-5, 58,-8, 62,-6, 64,0, 66,6, 69,2, 72,-1, 75,4, 77,-2, 79,4, 80.5,5, 82,-2, 85,-3, 88,-4, 92,-2, 98,-2, 105,-1, 112,-1.5, 118,-1, 124,-1.5, 130,-3, 136,-5, 139,-6, 141,-3, 143,10, 144.5,26];
const A9012m_lblue = [29.8,11, 31,0, 33,-6, 35,-8, 37,-9, 42,-7, 48,-5, 55,-3, 63,-1, 72,1, 85,3, 95,4.5, 105,6, 115,9, 122,12, 128,16, 133,20, 138,26];
const A9012m_green = [30.8,-30, 31.3,12, 32.2,-26, 33.2,9, 34.4,12, 36,7, 38,5, 41.4,8, 43.6,6, 47,7, 50,11, 54.6,13, 59,14, 63.4,13, 67.8,14, 72,16, 76.6,17, 81,20, 84.3,22, 85.4,19, 89.8,20, 96,20, 103,20.5, 109.6,21, 114,22, 118,21, 121.6,19, 127,15, 132.6,10, 137,5, 140.3,0, 142.5,-10, 144.7,-26, 148.8,-40, 149.3,26, 150,-30, 150.6,26];
const A9012m_dgreen = [32,16, 36,14, 40,11, 45,9, 50,7, 58,5.5, 70,4.5, 85,4, 100,4, 110,5, 118,6, 125,8, 130,10, 136,13, 140,18, 143,26];
const A9012m_vmag = [39.2, 143.2];

const A9012s_red = [128.5,0, 140,10, 145,20, 148,50, 150,100, 151.5,200, 152.5,300, 153.5,400, 155,500, 156,550, 157,630, 157.5,500, 158.5,420, 159.5,380, 160,430, 161,380, 162,420, 163,450, 164,480, 165,400, 166,480, 167,460, 168,300, 168.5,100, 169.5,300, 170,100, 171,250, 172,180];
const A9012s_orange = [128.5,0, 140,20, 146,40, 149,100, 151,200, 152.5,300, 154,400, 155.5,500, 157,580, 158,550, 160,450, 162,380, 164,300, 166,220, 168,160, 170,130, 172,150];
const A9012s_green = [128.5,0, 140,-10, 146,-20, 149,-30, 150,-20, 151,0, 152,80, 153,200, 153.3,500, 153.7,300, 154.5,350, 155,250, 155.5,300, 156.5,200, 157,100, 157.8,-50, 158.5,-100, 159.5,-150, 160,-80, 160.8,-150, 161.5,-60, 162,-30, 163,0, 164,300, 164.5,100, 165,-100, 165.5,-250, 166,-150, 166.5,-250, 167,0, 168,100, 169,0, 170,-50, 171,-80, 172,-100];
const A9012s_dgreen = [128.5,0, 145,0, 149,20, 151,80, 152.5,200, 153.5,300, 155,330, 156.5,250, 157.5,100, 158.5,-50, 160,-80, 162,-60, 164,-30, 166,0, 168,0, 172,0];
const A9012s_blue = [128.5,0, 145,10, 150,50, 152,150, 153.5,250, 154.5,280, 155.5,200, 157,100, 158,30, 159,-20, 160,-30, 162,-20, 163,0, 165,10, 166,-10, 168,-20, 168.5,-50, 169,0, 171,-10, 172,-30];
const A9012s_lblue = [128.5,20, 140,30, 145,40, 150,80, 152,150, 154,250, 155,260, 156,200, 157.5,100, 159,20, 161,0, 165,0, 168,20, 170,30, 172,30];
const A9012s_vred = [152.1, 156.1];
const A9012s_vpale = [];
const A9012s_vmag = [142.4];

// ---------- layout ----------
const colLeft = [49, 273, 495];
const colWidth = [188, 186, 188];
const rowTop = [19, 179, 338, 497, 658, 817];
const plotH = 119;
const AXW = 46, AXH = 24, PADT = 4, PADR = 2;

const COL = { red: '#ff0000', orange: '#ffa31a', green: '#22e022', dgreen: '#138a13',
              blue: '#0000ff', lblue: '#2cb4f2', mag: '#ff00ff', pale: 'rgba(255,0,0,0.45)' };

const toXY = a => { const r = []; for (let i = 0; i < a.length; i += 2) r.push({ x: a[i], y: a[i + 1] }); return r; };
const minus = v => (v < 0 ? '\u2212' : '') + Math.abs(v);

function series(arr, color, dashed, width) {
  return { data: toXY(arr), borderColor: color, borderWidth: width || (dashed ? 1.8 : 1.6),
           borderDash: dashed ? [7, 4] : [], pointRadius: 0, tension: 0, fill: false };
}
function vlines(xs, color, dashed, width) {
  return xs.map(x => ({ data: [{ x, y: -1e4 }, { x, y: 1e4 }], borderColor: color, borderWidth: width,
                        borderDash: dashed ? [8, 4] : [], pointRadius: 0, fill: false }));
}

// box frame with inward ticks on all four sides
const frame = {
  id: 'frame',
  afterDraw(chart, args, o) {
    const { ctx, chartArea: a } = chart;
    const xs = chart.scales.x, ys = chart.scales.y;
    ctx.save();
    ctx.strokeStyle = '#444';
    ctx.lineWidth = 1;
    ctx.beginPath();
    const mark = (s, step, len, horiz) => {
      for (let v = Math.ceil(s.min / step - 1e-9) * step; v <= s.max + 1e-9; v += step) {
        const p = Math.round(s.getPixelForValue(v)) + 0.5;
        if (horiz) { ctx.moveTo(p, a.bottom); ctx.lineTo(p, a.bottom - len); ctx.moveTo(p, a.top); ctx.lineTo(p, a.top + len); }
        else { ctx.moveTo(a.left, p); ctx.lineTo(a.left + len, p); ctx.moveTo(a.right, p); ctx.lineTo(a.right - len, p); }
      }
    };
    mark(xs, o.xMinor, 3.5, true); mark(xs, o.xMajor, 6, true);
    mark(ys, o.yMinor, 3.5, false); mark(ys, o.yMajor, 6, false);
    ctx.stroke();
    ctx.strokeRect(Math.round(a.left) + 0.5, Math.round(a.top) + 0.5, Math.round(a.width) - 1, Math.round(a.height) - 1);
    ctx.restore();
  }
};

function majorTicks(min, max, step) {
  const t = [];
  for (let v = Math.ceil(min / step - 1e-9) * step; v <= max + 1e-9; v += step) t.push({ value: Math.round(v * 1000) / 1000 });
  return t;
}

function panel(row, col, xr, yr, ax, s) {
  const cv = document.createElement('canvas');
  const w = colWidth[col] + AXW + PADR, h = plotH + AXH + PADT;
  cv.width = w; cv.height = h;
  cv.style.left = (colLeft[col] - AXW) + 'px';
  cv.style.top = (rowTop[row] - PADT) + 'px';
  cv.style.width = w + 'px'; cv.style.height = h + 'px';
  document.body.appendChild(cv);

  const ds = [];
  ds.push(...vlines(s.vred || [], COL.red, false, 1.8));
  ds.push(...vlines(s.vpale || [], COL.pale, false, 2.2));
  ds.push(...vlines(s.vmag, COL.mag, true, 2.6));
  ds.push(series(s.red, COL.red), series(s.blue, COL.blue), series(s.green, COL.green),
          series(s.orange, COL.orange, true), series(s.lblue, COL.lblue, true), series(s.dgreen, COL.dgreen, true));
  if (s.zero) ds.push({ data: [{ x: xr[0], y: 0 }, { x: xr[1], y: 0 }], borderColor: '#111', borderWidth: 1, pointRadius: 0 });

  const tickFont = { family: 'Liberation Sans', size: 11 };
  new Chart(cv, {
    type: 'line',
    data: { datasets: ds },
    options: {
      responsive: false, animation: false, events: [], devicePixelRatio: 1,
      layout: { padding: { top: PADT, right: PADR, left: 0, bottom: 0 } },
      plugins: { legend: { display: false }, tooltip: { enabled: false },
                 frame: { xMajor: ax.xMajor, xMinor: ax.xMinor, yMajor: ax.yMajor, yMinor: ax.yMinor } },
      scales: {
        x: { type: 'linear', min: xr[0], max: xr[1],
             grid: { display: false, drawTicks: false }, border: { display: false },
             afterBuildTicks: sc => { sc.ticks = majorTicks(xr[0], xr[1], ax.xMajor); },
             ticks: { autoSkip: false, maxRotation: 0, padding: 3, color: '#333', font: tickFont, callback: minus },
             afterFit: sc => { sc.height = AXH; } },
        y: { type: 'linear', min: yr[0], max: yr[1],
             grid: { display: false, drawTicks: false }, border: { display: false },
             afterBuildTicks: sc => { sc.ticks = majorTicks(yr[0], yr[1], ax.yMajor); },
             ticks: { autoSkip: false, padding: 5, color: '#333', font: tickFont, callback: minus },
             afterFit: sc => { sc.width = AXW; } }
      }
    },
    plugins: [frame]
  });
}

const axN = { xMajor: 10, xMinor: 1, yMajor: 300, yMinor: 150 };
const axM = { xMajor: 30, xMinor: 5, yMajor: 10, yMinor: 5 };
const axS = { xMajor: 10, xMinor: 1, yMajor: 400, yMinor: 200 };

const panelSeries = (n, m, s) => ({ n, m, s });
const allSeries = {
  A4301: panelSeries(
    { red: A4301n_red, orange: A4301n_orange, green: A4301n_green, dgreen: A4301n_dgreen, blue: A4301n_blue, lblue: A4301n_lblue, vred: A4301n_vred, vpale: A4301n_vpale, vmag: A4301n_vmag },
    { red: A4301m_red, orange: A4301m_orange, green: A4301m_green, dgreen: A4301m_dgreen, blue: A4301m_blue, lblue: A4301m_lblue, vmag: A4301m_vmag, zero: true },
    { red: A4301s_red, orange: A4301s_orange, green: A4301s_green, dgreen: A4301s_dgreen, blue: A4301s_blue, lblue: A4301s_lblue, vred: A4301s_vred, vpale: A4301s_vpale, vmag: A4301s_vmag }),
  A4855: panelSeries(
    { red: A4855n_red, orange: A4855n_orange, green: A4855n_green, dgreen: A4855n_dgreen, blue: A4855n_blue, lblue: A4855n_lblue, vred: A4855n_vred, vpale: A4855n_vpale, vmag: A4855n_vmag },
    { red: A4855m_red, orange: A4855m_orange, green: A4855m_green, dgreen: A4855m_dgreen, blue: A4855m_blue, lblue: A4855m_lblue, vmag: A4855m_vmag, zero: true },
    { red: A4855s_red, orange: A4855s_orange, green: A4855s_green, dgreen: A4855s_dgreen, blue: A4855s_blue, lblue: A4855s_lblue, vred: A4855s_vred, vpale: A4855s_vpale, vmag: A4855s_vmag }),
  A4975: panelSeries(
    { red: A4975n_red, orange: A4975n_orange, green: A4975n_green, dgreen: A4975n_dgreen, blue: A4975n_blue, lblue: A4975n_lblue, vred: A4975n_vred, vpale: A4975n_vpale, vmag: A4975n_vmag },
    { red: A4975m_red, orange: A4975m_orange, green: A4975m_green, dgreen: A4975m_dgreen, blue: A4975m_blue, lblue: A4975m_lblue, vmag: A4975m_vmag, zero: true },
    { red: A4975s_red, orange: A4975s_orange, green: A4975s_green, dgreen: A4975s_dgreen, blue: A4975s_blue, lblue: A4975s_lblue, vred: A4975s_vred, vpale: A4975s_vpale, vmag: A4975s_vmag }),
  A5097: panelSeries(
    { red: A5097n_red, orange: A5097n_orange, green: A5097n_green, dgreen: A5097n_dgreen, blue: A5097n_blue, lblue: A5097n_lblue, vred: A5097n_vred, vpale: A5097n_vpale, vmag: A5097n_vmag },
    { red: A5097m_red, orange: A5097m_orange, green: A5097m_green, dgreen: A5097m_dgreen, blue: A5097m_blue, lblue: A5097m_lblue, vmag: A5097m_vmag, zero: true },
    { red: A5097s_red, orange: A5097s_orange, green: A5097s_green, dgreen: A5097s_dgreen, blue: A5097s_blue, lblue: A5097s_lblue, vred: A5097s_vred, vpale: A5097s_vpale, vmag: A5097s_vmag }),
  A8506: panelSeries(
    { red: A8506n_red, orange: A8506n_orange, green: A8506n_green, dgreen: A8506n_dgreen, blue: A8506n_blue, lblue: A8506n_lblue, vred: A8506n_vred, vpale: A8506n_vpale, vmag: A8506n_vmag },
    { red: A8506m_red, orange: A8506m_orange, green: A8506m_green, dgreen: A8506m_dgreen, blue: A8506m_blue, lblue: A8506m_lblue, vmag: A8506m_vmag, zero: true },
    { red: A8506s_red, orange: A8506s_orange, green: A8506s_green, dgreen: A8506s_dgreen, blue: A8506s_blue, lblue: A8506s_lblue, vred: A8506s_vred, vpale: A8506s_vpale, vmag: A8506s_vmag }),
  A9012: panelSeries(
    { red: A9012n_red, orange: A9012n_orange, green: A9012n_green, dgreen: A9012n_dgreen, blue: A9012n_blue, lblue: A9012n_lblue, vred: A9012n_vred, vpale: A9012n_vpale, vmag: A9012n_vmag },
    { red: A9012m_red, orange: A9012m_orange, green: A9012m_green, dgreen: A9012m_dgreen, blue: A9012m_blue, lblue: A9012m_lblue, vmag: A9012m_vmag, zero: true },
    { red: A9012s_red, orange: A9012s_orange, green: A9012s_green, dgreen: A9012s_dgreen, blue: A9012s_blue, lblue: A9012s_lblue, vred: A9012s_vred, vpale: A9012s_vpale, vmag: A9012s_vmag })
};

tracks.forEach((t, r) => {
  const yM = t === 'A9012' ? yRangeM_A9012 : yRangeM;
  const yS = t === 'A8506' ? yRangeS_A8506 : yRangeS;
  panel(r, 0, xRangeN[r], yRangeN, axN, allSeries[t].n);
  panel(r, 1, xRangeM[r], yM, axM, allSeries[t].m);
  panel(r, 2, xRangeS[r], yS, axS, allSeries[t].s);

  const ti = document.createElement('div');
  ti.className = 'title';
  ti.textContent = 'Track ' + t;
  ti.style.left = (colLeft[1] + colWidth[1] / 2 - 110) + 'px';
  ti.style.top = (rowTop[r] - 20) + 'px';
  document.body.appendChild(ti);
});

[1, 3, 5].forEach(r => {
  const d = document.createElement('div');
  d.className = 'ylab';
  d.innerHTML = '\u0394X<span class="sb">sm</span><span class="sp">(1)</span>, \u0394Y<span class="sb">sm</span><span class="sp">(1)</span>, \u0394Z<span class="sp">(1)</span> (nT)';
  d.style.left = (10 - 150) + 'px';
  d.style.top = (rowTop[r] + plotH / 2 - 9) + 'px';
  document.body.appendChild(d);
});

[0, 1, 2].forEach(c => {
  const d = document.createElement('div');
  d.className = 'xlab';
  d.textContent = 'Dipole colatitude (deg)';
  d.style.left = (colLeft[c] + colWidth[c] / 2 - 115) + 'px';
  d.style.top = '950px';
  document.body.appendChild(d);
});
</script>
</body>
</html>
